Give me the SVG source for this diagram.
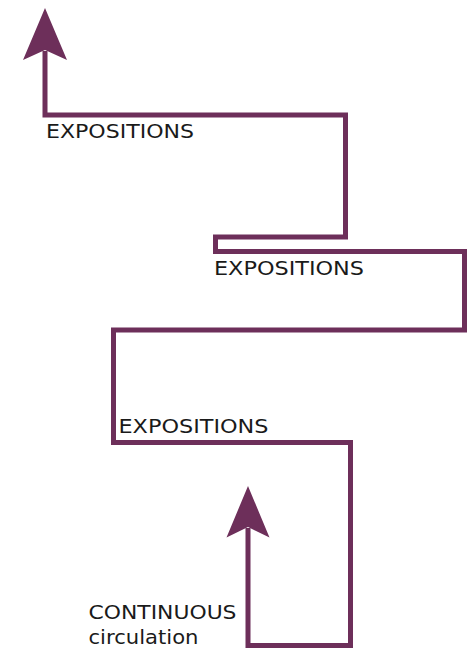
<svg xmlns="http://www.w3.org/2000/svg" width="467" height="661" viewBox="0 0 467 661">
<style>
.route{fill:none;stroke:#6d2f5a;stroke-width:5;stroke-linejoin:miter;stroke-linecap:butt}
.head{fill:#6d2f5a;stroke:none}
.lbl{font-family:"DejaVu Sans","Verdana",sans-serif;font-size:20px;fill:#1a1a1a}
</style>
<rect width="467" height="661" fill="#ffffff"/>
<g id="connectors">
<path class="route" d="M248,528 V645.5 H350.5 V442.5 H113.5 V330 H464.5 V251.5 H215.5 V237 H345.5 V115 H45 V51"/>
<polygon class="head" points="45,8 67,60 45,50 23,60"/>
<polygon class="head" points="248,486 269.5,537.5 248,527 226.5,537.5"/>
</g>
<g id="label-expositions-1"><text class="lbl" x="46" y="137.5" textLength="148" lengthAdjust="spacingAndGlyphs">EXPOSITIONS</text></g>
<g id="label-expositions-2"><text class="lbl" x="214" y="275" textLength="150" lengthAdjust="spacingAndGlyphs">EXPOSITIONS</text></g>
<g id="label-expositions-3"><text class="lbl" x="118.5" y="433.3" textLength="150" lengthAdjust="spacingAndGlyphs">EXPOSITIONS</text></g>
<g id="label-continuous">
<text class="lbl" x="88.5" y="619" textLength="148" lengthAdjust="spacingAndGlyphs">CONTINUOUS</text>
<text class="lbl" x="88.5" y="644" textLength="110" lengthAdjust="spacingAndGlyphs">circulation</text>
</g>
</svg>
